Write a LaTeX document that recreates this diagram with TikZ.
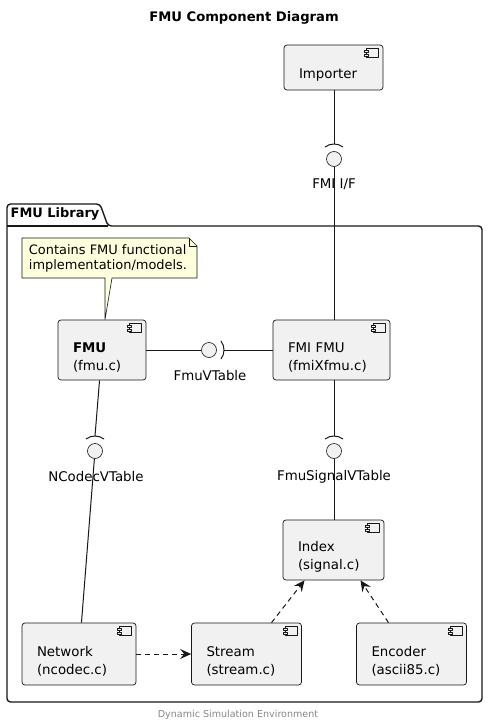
\documentclass[tikz,border=0pt]{standalone}
\usepackage{fontspec}
\setmainfont{DejaVu Sans}
\usetikzlibrary{arrows.meta}

\definecolor{compfill}{HTML}{F1F1F1}
\definecolor{compline}{HTML}{181818}
\definecolor{notefill}{HTML}{FEFFDD}
\definecolor{footgray}{HTML}{888888}

% strut that pushes box text below the component icon
\newcommand{\ctop}{\rule{0pt}{24bp}}
% little component glyph in the top right corner of a box
\newcommand{\compicon}[1]{%
  \draw [iconline] ([shift={(-17bp,-4bp)}]#1.north east) rectangle ([shift={(-5bp,-13bp)}]#1.north east);
  \draw [iconline] ([shift={(-19bp,-6bp)}]#1.north east) rectangle ([shift={(-15bp,-8bp)}]#1.north east);
  \draw [iconline] ([shift={(-19bp,-10bp)}]#1.north east) rectangle ([shift={(-15bp,-12bp)}]#1.north east);
}

\begin{document}
\begin{tikzpicture}[x=1bp,y=-1bp,>={Stealth[length=11bp,width=10bp,inset=4bp]},line join=bevel,
  comp/.style={draw=compline,fill=compfill,rounded corners=3bp,line width=0.7bp,
    inner xsep=15bp,inner ysep=0bp,align=left,font=\fontsize{13.4}{18}\selectfont},
  iface/.style={draw=compline,fill=compfill,circle,line width=0.6bp,inner sep=0pt,minimum size=15bp},
  ilabel/.style={font=\fontsize{13.4}{16}\selectfont},
  iconline/.style={draw=compline,fill=compfill,line width=0.5bp},
  wire/.style={draw=compline,line width=1bp},
  dep/.style={wire,dash pattern=on 5bp off 4bp,->},
  pkg/.style={draw=compline,line width=1.4bp,rounded corners=3.5bp},
]
%%
  \fill [white] (0,0) rectangle (488,726);
  \node (title) at (244,18) [font=\bfseries\fontsize{13.2}{16}\selectfont] {FMU Component Diagram};
%
  \draw [pkg] (7,226) -- (7,204) -- (100,204) -- (108,226) -- (482,226) -- (482,702) -- (7,702) -- cycle;
  \draw [pkg] (7,226) -- (108,226);
  \node (pkglbl) at (55,214) [font=\bfseries\fontsize{13}{16}\selectfont] {FMU Library};
%
  \node (importer) at (333.5,67.5) [comp,text width=69bp,minimum height=45bp] {\ctop Importer};
  \node (fmu) at (102,350) [comp,text width=58bp,minimum height=60bp] {\ctop\textbf{FMU}\\(fmu.c)};
  \node (fmifmu) at (331.5,350) [comp,text width=87bp,minimum height=60bp] {\ctop FMI FMU\\(fmiXfmu.c)};
  \node (index) at (333.5,550) [comp,text width=71bp,minimum height=60bp] {\ctop Index\\(signal.c)};
  \node (network) at (79,654) [comp,text width=84bp,minimum height=62bp] {\ctop Network\\(ncodec.c)};
  \node (stream) at (246.5,654) [comp,text width=80bp,minimum height=62bp] {\ctop Stream\\(stream.c)};
  \node (encoder) at (411.5,654) [comp,text width=80bp,minimum height=62bp] {\ctop Encoder\\(ascii85.c)};
  \compicon{importer}
  \compicon{fmu}
  \compicon{fmifmu}
  \compicon{index}
  \compicon{network}
  \compicon{stream}
  \compicon{encoder}
%
  \draw [draw=compline,fill=notefill,line width=0.6bp] (22,238) -- (189,238) -- (197,246) -- (197,278)
    -- (112,278) -- ([xshift=3bp]fmu.north) -- (105,278) -- (22,278) -- cycle;
  \draw [draw=compline,line width=0.6bp] (189,238) -- (189,246) -- (197,246);
  \node (note) at (108,258) [align=left,font=\fontsize{13}{15}\selectfont] {Contains FMU functional\\implementation/models.};
%
  \node (fmiif) at (334,159) [iface] {};
  \node (fmiiflbl) at (334,184) [ilabel] {FMI I/F};
  \node (fmuvt) at (209,350) [iface] {};
  \node (fmuvtlbl) at (210,376) [ilabel] {FmuVTable};
  \node (ncodec) at (95,451) [iface] {};
  \node (ncodeclbl) at (96,477) [ilabel] {NCodecVTable};
  \node (fmusig) at (334,451) [iface] {};
  \node (fmusiglbl) at (334,477) [ilabel] {FmuSignalVTable};
  \coordinate (fmiifs) at ([yshift=15bp]fmiif.center);
  \coordinate (fmuvts) at ([xshift=15bp]fmuvt.center);
  \coordinate (ncodecs) at ([yshift=15bp]ncodec.center);
  \coordinate (fmusigs) at ([yshift=15bp]fmusig.center);
  \draw [wire] ([shift={(127:15bp)}]fmiif.center) arc [start angle=127,end angle=53,radius=15bp];
  \draw [wire] ([shift={(-37:15bp)}]fmuvt.center) arc [start angle=-37,end angle=37,radius=15bp];
  \draw [wire] ([shift={(127:15bp)}]ncodec.center) arc [start angle=127,end angle=53,radius=15bp];
  \draw [wire] ([shift={(127:15bp)}]fmusig.center) arc [start angle=127,end angle=53,radius=15bp];
%
  \draw [wire] (importer.south -| fmiifs) -- (fmiifs);
  \draw [wire] (fmiif) -- (fmiif |- fmifmu.north);
  \draw [wire] (fmu) -- (fmuvt);
  \draw [wire] (fmuvts) -- (fmifmu);
  \draw [wire] (fmu) -- (ncodecs);
  \draw [wire] (ncodec) -- (network);
  \draw [wire] (fmifmu.south -| fmusigs) -- (fmusigs);
  \draw [wire] (fmusig) -- (fmusig |- index.north);
  \draw [dep] (network) -- (stream);
  \draw [dep] ([xshift=25bp]stream.north) -- ([xshift=-29bp]index.south);
  \draw [dep] ([xshift=-23bp]encoder.north) -- ([xshift=27bp]index.south);
%
  \node (footer) at (238,715) [text=footgray,font=\fontsize{9.6}{11}\selectfont] {Dynamic Simulation Environment};
%
\end{tikzpicture}
\end{document}
